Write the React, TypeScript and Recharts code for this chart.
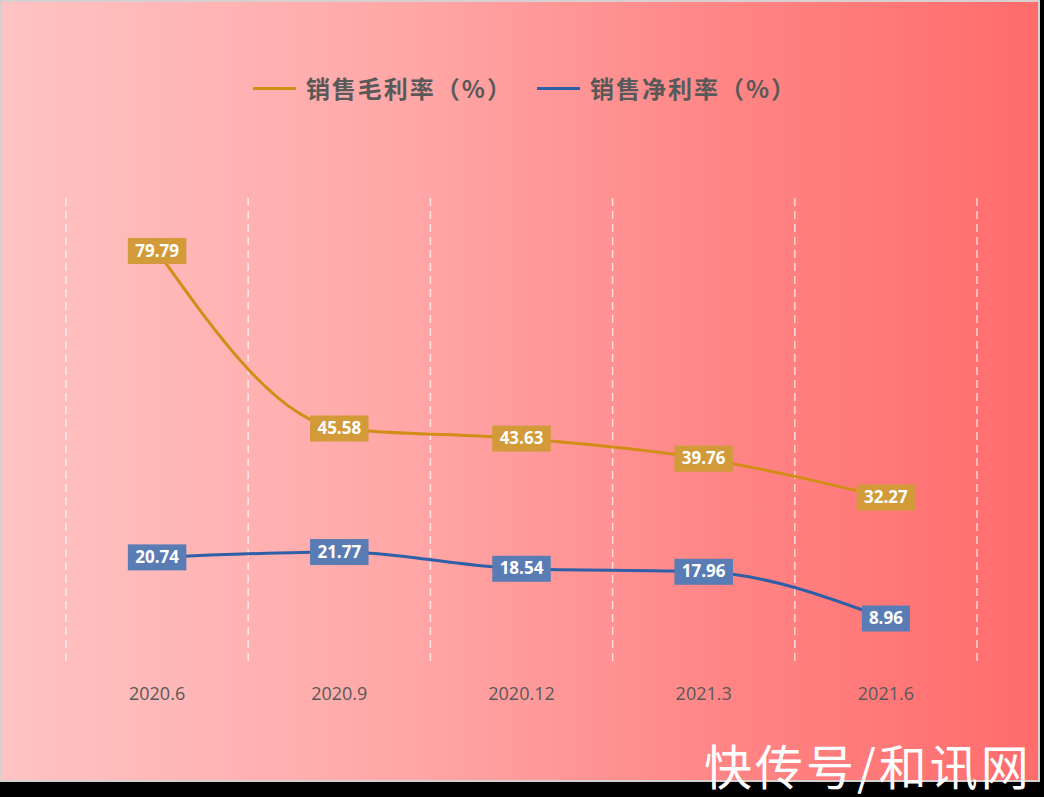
import { LineChart, Line, XAxis, YAxis, CartesianGrid, LabelList } from "recharts";

const periods = ["2020.6", "2020.9", "2020.12", "2021.3", "2021.6"];
const grossMargin = [79.79, 45.58, 43.63, 39.76, 32.27];
const netMargin = [20.74, 21.77, 18.54, 17.96, 8.96];

const grossName = "销售毛利率（%）";
const netName = "销售净利率（%）";

const data = periods.map((p, i) => ({
  period: p,
  gross: grossMargin[i],
  net: netMargin[i],
}));

const GOLD = "#d28d17";
const GOLD_BOX = "#d39a3a";
const BLUE = "#2f5fa7";
const BLUE_BOX = "#5a7cb5";

function makeLabel(fill: string) {
  return (props: any) => {
    const { x, y, value } = props;
    const text = Number(value).toFixed(2);
    const w = text.length * 10.5 + 6;
    const h = 26;
    return (
      <g>
        <rect x={x - w / 2} y={y - h / 2} width={w} height={h} fill={fill} />
        <text
          x={x}
          y={y + 1}
          textAnchor="middle"
          dominantBaseline="middle"
          fill="#ffffff"
          fontSize={17}
          fontWeight={700}
          fontFamily="'Open Sans', sans-serif"
        >
          {text}
        </text>
      </g>
    );
  };
}

function ChartLegend() {
  const items = [
    { name: grossName, color: GOLD },
    { name: netName, color: BLUE },
  ];
  return (
    <div
      style={{
        position: "absolute",
        left: 3,
        top: 73,
        width: 1044,
        display: "flex",
        justifyContent: "center",
        gap: 24,
      }}
    >
      {items.map((it) => (
        <div key={it.name} style={{ display: "flex", alignItems: "center" }}>
          <div style={{ width: 43, height: 3, background: it.color, marginRight: 10 }} />
          <span
            style={{
              fontFamily: "'Noto Sans CJK SC', sans-serif",
              fontWeight: 700,
              fontSize: 24,
              letterSpacing: 2,
              color: "#595959",
              lineHeight: "30px",
            }}
          >
            {it.name}
          </span>
        </div>
      ))}
    </div>
  );
}

export default function App() {
  return (
    <div
      style={{
        position: "fixed",
        left: 0,
        top: 0,
        width: 1044,
        height: 797,
        background: "#000",
        overflow: "hidden",
      }}
    >
      <div
        style={{
          position: "absolute",
          left: 0,
          top: 0,
          width: 1040,
          height: 782,
          boxSizing: "border-box",
          border: "2px solid #d8d0d0",
          background: "linear-gradient(to right, #ffc3c3 0%, #ffa6a6 40%, #ff8585 70%, #ff6c6c 100%)",
        }}
      />
      <ChartLegend />
      <div style={{ position: "absolute", left: 0, top: 0 }}>
        <LineChart
          width={1044}
          height={797}
          data={data}
          margin={{ top: 198, right: 67, bottom: 102, left: 66 }}
        >
          <CartesianGrid
            horizontal={false}
            stroke="rgba(255,255,255,0.7)"
            strokeDasharray="8 5"
            strokeWidth={1.5}
            verticalCoordinatesGenerator={({ offset }: any) =>
              Array.from({ length: periods.length + 1 }, (_, i) => offset.left + (i * offset.width) / periods.length)
            }
          />
          <XAxis
            dataKey="period"
            scale="band"
            axisLine={false}
            tickLine={false}
            height={30}
            tickMargin={16}
            tick={{ fill: "#595959", fontSize: 18, fontFamily: "'Open Sans', sans-serif" }}
          />
          <YAxis hide domain={[0, 90]} />
          <Line
            type="monotone"
            dataKey="gross"
            name={grossName}
            stroke={GOLD}
            strokeWidth={3}
            dot={false}
            isAnimationActive={false}
          >
            <LabelList dataKey="gross" content={makeLabel(GOLD_BOX)} />
          </Line>
          <Line
            type="monotone"
            dataKey="net"
            name={netName}
            stroke={BLUE}
            strokeWidth={3}
            dot={false}
            isAnimationActive={false}
          >
            <LabelList dataKey="net" content={makeLabel(BLUE_BOX)} />
          </Line>
        </LineChart>
      </div>
      <div
        style={{
          position: "absolute",
          left: 704,
          top: 734,
          color: "#ffffff",
          fontFamily: "'Noto Sans CJK SC', sans-serif",
          fontSize: 48,
          letterSpacing: 3,
          fontWeight: 400,
          lineHeight: "60px",
          whiteSpace: "nowrap",
        }}
      >
        快传号/和讯网
      </div>
    </div>
  );
}
